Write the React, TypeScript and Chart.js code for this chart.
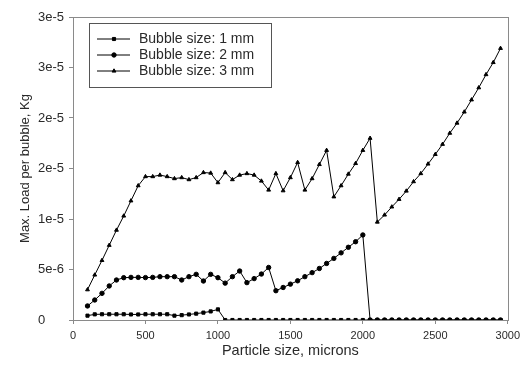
import React, { useEffect, useRef } from 'react';
import { Chart, registerables } from 'chart.js';
import { drawPoint } from 'chart.js/helpers';

Chart.register(...registerables);

const particleSizes = [
  100, 150, 200, 250, 300, 350, 400, 450, 500, 550, 600, 650, 700, 750, 800, 850, 900, 950, 1000,
  1050, 1100, 1150, 1200, 1250, 1300, 1350, 1400, 1450, 1500, 1550, 1600, 1650, 1700, 1750, 1800,
  1850, 1900, 1950, 2000, 2050, 2100, 2150, 2200, 2250, 2300, 2350, 2400, 2450, 2500, 2550, 2600,
  2650, 2700, 2750, 2800, 2850, 2900, 2950,
];

const load1mm = [
  0.43e-6, 0.56e-6, 0.57e-6, 0.57e-6, 0.57e-6, 0.57e-6, 0.55e-6, 0.55e-6, 0.57e-6, 0.57e-6,
  0.57e-6, 0.57e-6, 0.43e-6, 0.48e-6, 0.55e-6, 0.63e-6, 0.73e-6, 0.85e-6, 1.05e-6,
  0, 0, 0, 0, 0, 0, 0, 0, 0, 0, 0, 0, 0, 0, 0, 0, 0, 0, 0, 0,
  0, 0, 0, 0, 0, 0, 0, 0, 0, 0, 0, 0, 0, 0, 0, 0, 0, 0, 0, 0,
];

const load2mm = [
  1.39e-6, 1.98e-6, 2.64e-6, 3.37e-6, 3.96e-6, 4.19e-6, 4.22e-6, 4.22e-6, 4.2e-6, 4.22e-6,
  4.29e-6, 4.29e-6, 4.29e-6, 3.96e-6, 4.29e-6, 4.52e-6, 3.86e-6, 4.52e-6, 4.19e-6, 3.65e-6,
  4.29e-6, 4.85e-6, 3.7e-6, 4.1e-6, 4.55e-6, 5.2e-6, 2.9e-6, 3.22e-6, 3.55e-6, 3.88e-6,
  4.29e-6, 4.69e-6, 5.1e-6, 5.6e-6, 6.1e-6, 6.65e-6, 7.2e-6, 7.75e-6, 8.42e-6,
  0, 0, 0, 0, 0, 0, 0, 0, 0, 0, 0, 0, 0, 0, 0, 0, 0, 0, 0,
];

const load3mm = [
  3.0e-6, 4.46e-6, 5.9e-6, 7.4e-6, 8.9e-6, 1.03e-5, 1.18e-5, 1.33e-5, 1.42e-5, 1.42e-5,
  1.435e-5, 1.42e-5, 1.4e-5, 1.41e-5, 1.39e-5, 1.41e-5, 1.46e-5, 1.455e-5, 1.36e-5, 1.46e-5,
  1.39e-5, 1.435e-5, 1.45e-5, 1.435e-5, 1.376e-5, 1.287e-5, 1.45e-5, 1.28e-5, 1.41e-5, 1.56e-5,
  1.287e-5, 1.4e-5, 1.54e-5, 1.68e-5, 1.22e-5, 1.33e-5, 1.445e-5, 1.55e-5, 1.68e-5, 1.8e-5,
  9.7e-6, 1.04e-5, 1.12e-5, 1.195e-5, 1.277e-5, 1.37e-5, 1.45e-5, 1.545e-5, 1.64e-5, 1.74e-5,
  1.85e-5, 1.95e-5, 2.06e-5, 2.18e-5, 2.3e-5, 2.43e-5, 2.55e-5, 2.69e-5,
];

const seriesLabels = ['Bubble size: 1 mm', 'Bubble size: 2 mm', 'Bubble size: 3 mm'];
const seriesMarkers = ['rect', 'circle', 'triangle'];
const yTickLabels = ['0', '5e-6', '1e-5', '2e-5', '2e-5', '3e-5', '3e-5'];
const xTickLabels = ['0', '500', '1000', '1500', '2000', '2500', '3000'];

const FONT = '"Liberation Sans", Arial, Helvetica, sans-serif';
const TEXT = '#2a2a2a';
const AXIS = '#8a8a8a';

const framePlugin = {
  id: 'frame',
  afterDraw(chart: any) {
    const { ctx, chartArea: a } = chart;
    ctx.save();
    ctx.strokeStyle = AXIS;
    ctx.lineWidth = 1;
    ctx.strokeRect(Math.round(a.left) + 0.5, Math.round(a.top) + 0.5, Math.round(a.right - a.left), Math.round(a.bottom - a.top));
    ctx.restore();
  },
};

const boxLegend = {
  id: 'boxLegend',
  afterDraw(chart: any) {
    const { ctx, chartArea: a } = chart;
    const bx = a.left + 16;
    const by = a.top + 6;
    const bw = 182;
    const bh = 64;
    ctx.save();
    ctx.fillStyle = '#fff';
    ctx.fillRect(bx, by, bw, bh);
    ctx.strokeStyle = '#555';
    ctx.lineWidth = 1;
    ctx.strokeRect(Math.round(bx) + 0.5, Math.round(by) + 0.5, bw, bh);
    ctx.font = `14px ${FONT}`;
    ctx.textBaseline = 'middle';
    chart.data.datasets.forEach((ds: any, i: number) => {
      const y = by + 16 + i * 16;
      ctx.strokeStyle = '#000';
      ctx.lineWidth = 1;
      ctx.beginPath();
      ctx.moveTo(bx + 8, y);
      ctx.lineTo(bx + 41, y);
      ctx.stroke();
      ctx.fillStyle = '#000';
      drawPoint(ctx, { pointStyle: ds.pointStyle, radius: 2.2, rotation: 0, borderWidth: 1 }, bx + 25, y);
      ctx.fillStyle = TEXT;
      ctx.fillText(ds.label, bx + 50, y + 0.5);
    });
    ctx.restore();
  },
};

export default function App() {
  const ref = useRef<HTMLCanvasElement>(null);

  useEffect(() => {
    const mk = (vals: number[]) => particleSizes.map((x, i) => ({ x, y: vals[i] }));
    const series = [load1mm, load2mm, load3mm];
    const chart = new Chart(ref.current!, {
      type: 'line',
      data: {
        datasets: series.map((vals, i) => ({
          label: seriesLabels[i],
          data: mk(vals),
          borderColor: '#000',
          backgroundColor: '#000',
          borderWidth: 1,
          pointStyle: seriesMarkers[i] as any,
          pointRadius: 2.2,
          pointBorderWidth: 1,
          tension: 0,
          fill: false,
        })),
      },
      options: {
        animation: false,
        responsive: false,
        events: [],
        layout: { padding: { left: 38, right: 17, top: 17, bottom: 0 } },
        plugins: { legend: { display: false }, tooltip: { enabled: false } },
        scales: {
          x: {
            type: 'linear',
            min: 0,
            max: 3000,
            afterFit: (s: any) => { s.height = 49; },
            border: { color: AXIS, width: 1 },
            grid: { drawOnChartArea: false, drawTicks: true, tickLength: 4, color: AXIS },
            ticks: {
              stepSize: 500,
              padding: 5,
              color: TEXT,
              font: { family: FONT, size: 11 },
              maxRotation: 0,
              callback: (v: any) => xTickLabels[Math.round(Number(v) / 500)],
            },
            title: {
              display: true,
              text: 'Particle size, microns',
              color: TEXT,
              font: { family: FONT, size: 14.5 },
              padding: { top: 0, bottom: 9 },
            },
          },
          y: {
            type: 'linear',
            min: 0,
            max: 3e-5,
            afterFit: (s: any) => { s.width = 35; },
            border: { color: AXIS, width: 1 },
            grid: { drawOnChartArea: false, drawTicks: true, tickLength: 4, color: AXIS },
            ticks: {
              stepSize: 5e-6,
              padding: 4,
              crossAlign: 'far',
              color: TEXT,
              font: { family: FONT, size: 13 },
              callback: (v: any) => yTickLabels[Math.round(Number(v) / 5e-6)],
            },
            title: {
              display: true,
              text: 'Max. Load per bubble, Kg',
              color: TEXT,
              font: { family: FONT, size: 13 },
              padding: { top: -20, bottom: 0 },
            },
          },
        },
      },
      plugins: [framePlugin, boxLegend],
    });
    return () => chart.destroy();
  }, []);

  return (
    <div style={{ position: 'absolute', left: 0, top: 0, width: 525, height: 369, background: '#fff' }}>
      <canvas ref={ref} width={525} height={369} />
    </div>
  );
}
